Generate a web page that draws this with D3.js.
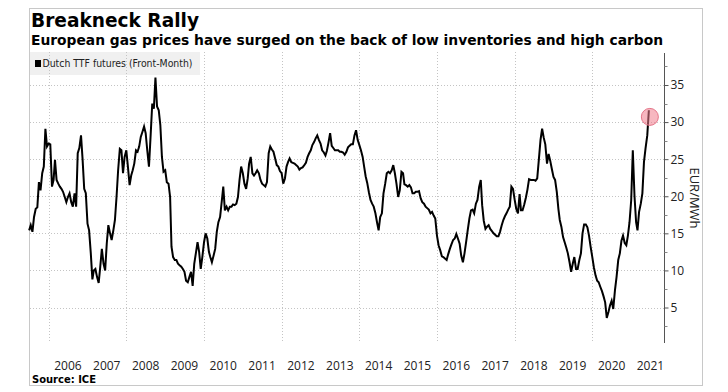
<!DOCTYPE html>
<html>
<head>
<meta charset="utf-8">
<script src="https://cdn.jsdelivr.net/npm/d3@7"></script>
<style>
  body { margin: 0; background: #fff; }
  svg { display: block; }
</style>
</head>
<body>
<svg id="chart" width="728" height="392"></svg>
<script>
// semi-monthly readings (1st and 16th of each month), starting July 2005
const seriesStart = new Date(2005, 6, 1);
const ttfPrices = [
  15.4, 16.1, 15.2, 17.2, 18.3, 18.5, 21.9, 20.8, 23.1, 24.0,
  29.1, 26.7, 27.1, 27.0, 21.3, 22.2, 24.9, 22.2, 21.7, 21.3,
  21.0, 20.6, 19.9, 19.2, 19.9, 20.4, 19.2, 18.6, 20.4, 18.6,
  25.8, 26.5, 28.2, 24.9, 21.0, 20.4, 16.3, 15.4, 12.3, 8.8,
  10.0, 10.2, 9.1, 8.3, 10.5, 12.9, 10.9, 10.0, 13.6, 16.1,
  15.0, 14.1, 15.4, 16.8, 19.9, 23.5, 26.4, 26.2, 23.1, 25.3,
  26.2, 24.0, 21.5, 22.8, 23.5, 24.4, 26.2, 26.0, 26.7, 28.0,
  28.7, 29.4, 28.5, 26.2, 24.0, 28.0, 32.5, 31.8, 36.0, 32.1,
  31.6, 29.6, 25.3, 23.3, 23.5, 21.9, 21.7, 19.9, 13.2, 11.8,
  11.4, 11.4, 10.9, 10.7, 10.5, 10.2, 9.8, 8.6, 8.4, 9.1,
  9.8, 7.9, 10.9, 12.3, 13.8, 12.5, 10.2, 11.8, 13.8, 15.0,
  14.3, 12.5, 11.8, 11.1, 12.0, 12.9, 15.2, 16.5, 17.2, 19.2,
  21.3, 18.1, 18.6, 18.1, 18.6, 18.6, 18.9, 18.8, 19.0, 19.9,
  22.2, 24.0, 23.1, 21.7, 21.0, 22.4, 24.4, 25.3, 23.1, 22.8,
  23.1, 23.5, 23.1, 22.2, 21.7, 21.5, 21.3, 21.9, 25.8, 26.7,
  26.3, 26.0, 25.1, 24.2, 24.0, 23.4, 23.1, 21.7, 22.4, 24.0,
  24.6, 25.1, 24.6, 24.5, 24.4, 24.2, 24.0, 23.6, 23.8, 23.9,
  24.2, 24.5, 25.3, 25.8, 26.2, 26.9, 27.3, 27.8, 28.2, 27.6,
  27.1, 26.2, 25.9, 25.5, 26.1, 27.2, 28.5, 26.8, 26.5, 26.2,
  26.2, 26.2, 26.0, 26.0, 25.9, 25.6, 26.0, 26.6, 26.8, 27.0,
  27.0, 28.2, 28.9, 27.6, 26.9, 26.2, 25.3, 23.9, 22.7, 21.8,
  20.5, 19.5, 19.0, 18.6, 17.7, 16.5, 15.4, 17.2, 17.7, 20.4,
  21.7, 23.1, 23.3, 23.1, 23.5, 24.2, 23.1, 21.7, 19.9, 20.8,
  23.3, 23.1, 21.6, 21.5, 21.3, 21.5, 21.2, 20.4, 20.4, 20.6,
  20.6, 20.7, 19.7, 19.2, 19.0, 18.6, 18.4, 18.2, 17.7, 17.9,
  17.4, 17.0, 14.7, 13.4, 12.7, 11.9, 11.8, 11.6, 11.4, 12.2,
  12.9, 13.5, 14.1, 14.3, 14.9, 14.3, 13.6, 12.0, 11.1, 12.3,
  13.8, 15.4, 17.0, 18.1, 18.2, 17.7, 19.0, 19.5, 21.3, 22.2,
  18.8, 16.7, 15.6, 15.9, 16.1, 15.6, 15.3, 15.0, 14.8, 14.6,
  14.6, 15.2, 16.1, 16.8, 17.3, 17.7, 18.2, 18.6, 21.3, 21.0,
  19.5, 18.3, 17.7, 20.3, 18.1, 18.1, 18.9, 19.8, 20.9, 22.3,
  22.2, 22.2, 22.2, 22.1, 22.4, 24.9, 27.6, 29.1, 27.9, 27.0,
  24.4, 25.7, 24.8, 23.7, 22.6, 22.2, 20.6, 18.3, 16.8, 15.9,
  14.5, 13.8, 13.1, 12.3, 11.1, 9.8, 10.9, 11.8, 10.2, 10.2,
  11.4, 12.3, 15.0, 16.2, 16.2, 15.8, 14.7, 13.2, 11.8, 10.4,
  9.3, 8.6, 8.4, 7.8, 7.2, 6.5, 5.7, 3.6, 4.4, 5.3,
  5.9, 4.8, 7.3, 9.1, 11.4, 12.3, 14.0, 14.7, 13.7, 13.4,
  14.7, 16.5, 19.5, 26.2, 20.0, 16.5, 15.4, 17.9, 19.0, 20.4,
  24.6, 26.5, 28.2, 31.6
];
const yTickValues = [5, 10, 15, 20, 25, 30, 35];
const yMinorTicks = [2.5, 7.5, 12.5, 17.5, 22.5, 27.5, 32.5, 37.5];
const yearLabels = [2006, 2007, 2008, 2009, 2010, 2011, 2012, 2013, 2014, 2015, 2016, 2017, 2018, 2019, 2020, 2021];
const gridYears = [2006, 2008, 2010, 2012, 2014, 2016, 2018, 2020];
const highlightPrice = 30.7;

const data = ttfPrices.map((v, i) => ({
  date: d3.timeDay.offset(d3.timeMonth.offset(seriesStart, Math.floor(i / 2)), (i % 2) * 15),
  value: v
}));

const plot = { left: 30, right: 664, top: 52, bottom: 342 };
const labelFont = '"Open Sans", "DejaVu Sans", sans-serif';

const svg = d3.select('#chart');

const x = d3.scaleTime()
  .domain([new Date(2006, 0, 1), new Date(2020, 0, 1)])
  .range([48.7, 592.3]);
const y = d3.scaleLinear()
  .domain([5, 35])
  .range([307.5, 85]);

// outer frame
svg.append('rect')
  .attr('x', 29.5).attr('y', 8.5)
  .attr('width', 673).attr('height', 377)
  .attr('fill', '#fff')
  .attr('stroke', '#c8c8c8');

// titles
svg.append('text')
  .attr('x', 31).attr('y', 27)
  .attr('font-family', '"DejaVu Sans", sans-serif')
  .attr('font-weight', 'bold')
  .attr('font-size', 19)
  .attr('textLength', 168)
  .attr('lengthAdjust', 'spacingAndGlyphs')
  .text('Breakneck Rally');

svg.append('text')
  .attr('x', 31).attr('y', 45)
  .attr('font-family', '"DejaVu Sans", sans-serif')
  .attr('font-weight', 'bold')
  .attr('font-size', 13.5)
  .attr('textLength', 632)
  .attr('lengthAdjust', 'spacingAndGlyphs')
  .text('European gas prices have surged on the back of low inventories and high carbon');

// legend box
svg.append('rect')
  .attr('x', 30).attr('y', 52)
  .attr('width', 170).attr('height', 23)
  .attr('fill', '#f0f0f0');

// grid
const grid = svg.append('g')
  .attr('stroke', '#c4c4c4')
  .attr('stroke-dasharray', '1,2');

grid.selectAll('line.h')
  .data(yTickValues)
  .join('line')
  .attr('class', 'h')
  .attr('x1', plot.left).attr('x2', plot.right)
  .attr('y1', d => Math.round(y(d)) + 0.5)
  .attr('y2', d => Math.round(y(d)) + 0.5);

grid.selectAll('line.v')
  .data(gridYears)
  .join('line')
  .attr('class', 'v')
  .attr('x1', d => Math.round(x(new Date(d, 0, 1))) + 0.5)
  .attr('x2', d => Math.round(x(new Date(d, 0, 1))) + 0.5)
  .attr('y1', plot.top).attr('y2', plot.bottom);

// legend
svg.append('rect')
  .attr('x', 35).attr('y', 60)
  .attr('width', 6).attr('height', 7)
  .attr('fill', '#000');
svg.append('text')
  .attr('x', 42.5).attr('y', 67)
  .attr('font-family', '"DejaVu Sans", sans-serif')
  .attr('font-size', 10)
  .attr('fill', '#222')
  .attr('textLength', 150)
  .attr('lengthAdjust', 'spacingAndGlyphs')
  .text('Dutch TTF futures (Front-Month)');

// series line
const line = d3.line()
  .x(d => x(d.date))
  .y(d => y(d.value));

svg.append('path')
  .datum(data)
  .attr('fill', 'none')
  .attr('stroke', '#000')
  .attr('stroke-width', 2)
  .attr('stroke-linejoin', 'miter')
  .attr('d', line);

// highlight circle on latest value
const last = data[data.length - 1];
svg.append('circle')
  .attr('cx', x(last.date) + 1)
  .attr('cy', y(highlightPrice))
  .attr('r', 8.5)
  .attr('fill', '#f07c8c')
  .attr('fill-opacity', 0.55)
  .attr('stroke', '#e5768a')
  .attr('stroke-width', 1);

// right y axis
const yAxis = svg.append('g')
  .attr('transform', `translate(${plot.right + 0.5},0)`);

yAxis.append('line')
  .attr('y1', plot.top + 1).attr('y2', plot.bottom + 1)
  .attr('stroke', '#555');

yAxis.selectAll('line.minor')
  .data(yMinorTicks)
  .join('line')
  .attr('class', 'minor')
  .attr('x1', 0).attr('x2', 3)
  .attr('y1', d => Math.round(y(d)) + 0.5)
  .attr('y2', d => Math.round(y(d)) + 0.5)
  .attr('stroke', '#888');

yAxis.call(d3.axisRight(y).tickValues(yTickValues).tickSize(4).tickPadding(2))
  .call(g => g.select('.domain').remove())
  .call(g => g.selectAll('.tick line').attr('stroke', '#555'))
  .call(g => g.selectAll('.tick text')
    .attr('font-family', labelFont)
    .attr('font-size', 12)
    .attr('fill', '#222'));

svg.append('text')
  .attr('transform', 'translate(690,198) rotate(90)')
  .attr('text-anchor', 'middle')
  .attr('font-family', labelFont)
  .attr('font-size', 13)
  .attr('fill', '#222')
  .text('EUR/MWh');

// year labels, centred in each year
svg.append('g')
  .selectAll('text')
  .data(yearLabels)
  .join('text')
  .attr('x', d => x(new Date(d, 6, 1)))
  .attr('y', 370)
  .attr('text-anchor', 'middle')
  .attr('font-family', labelFont)
  .attr('font-size', 12)
  .attr('fill', '#222')
  .text(d => d);

svg.append('text')
  .attr('x', 32).attr('y', 383)
  .attr('font-family', '"DejaVu Sans", sans-serif')
  .attr('font-weight', 'bold')
  .attr('font-size', 10)
  .attr('textLength', 64)
  .attr('lengthAdjust', 'spacingAndGlyphs')
  .text('Source: ICE');
</script>
</body>
</html>
